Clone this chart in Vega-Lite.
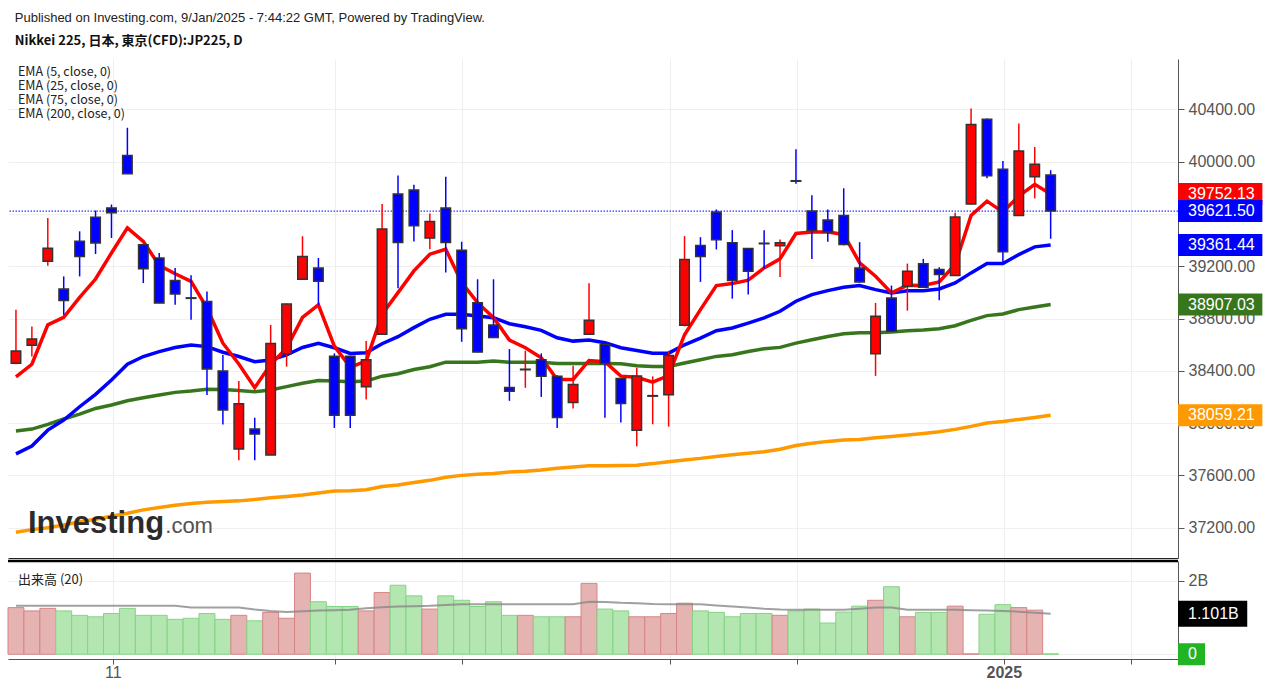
{
  "$schema": "https://vega.github.io/schema/vega-lite/v6.json",
  "background": "white",
  "padding": {"left": 6, "top": 12, "right": 0, "bottom": 0},
  "title": {
    "text": "Published on Investing.com, 9/Jan/2025 - 7:44:22 GMT, Powered by TradingView.",
    "subtitle": "Nikkei 225, 日本, 東京(CFD):JP225, D",
    "anchor": "start", "frame": "bounds", "dx": 8,
    "font": "Liberation Sans", "fontSize": 13, "fontWeight": "normal", "color": "#222",
    "subtitleFont": "Noto Sans CJK JP", "subtitleFontSize": 13, "subtitleFontWeight": "bold", "subtitleColor": "#111",
    "subtitlePadding": 10, "offset": 11
  },
  "datasets": {
    "bars": [
      {"bar":1,"open":38457,"high":38866,"low":38450,"close":38552,"ema5":38353,"ema25":37765,"ema75":37939,"ema200":37165,"volume":1.27,"volma":1.32},
      {"bar":2,"open":38595,"high":38739,"low":38509,"close":38644,"ema5":38450,"ema25":37824,"ema75":37954,"ema200":37185,"volume":1.18,"volma":1.32},
      {"bar":3,"open":39237,"high":39569,"low":39204,"close":39337,"ema5":38751,"ema25":37946,"ema75":37990,"ema200":37200,"volume":1.25,"volma":1.32},
      {"bar":4,"open":39025,"high":39122,"low":38828,"close":38938,"ema5":38808,"ema25":38023,"ema75":38031,"ema200":37220,"volume":1.18,"volma":1.32},
      {"bar":5,"open":39390,"high":39467,"low":39122,"close":39275,"ema5":38961,"ema25":38125,"ema75":38069,"ema200":37245,"volume":1.06,"volma":1.32},
      {"bar":6,"open":39574,"high":39626,"low":39293,"close":39378,"ema5":39102,"ema25":38220,"ema75":38112,"ema200":37265,"volume":1.02,"volma":1.32},
      {"bar":7,"open":39646,"high":39672,"low":39416,"close":39608,"ema5":39301,"ema25":38330,"ema75":38138,"ema200":37288,"volume":1.11,"volma":1.32},
      {"bar":8,"open":40047,"high":40259,"low":39907,"close":39907,"ema5":39493,"ema25":38450,"ema75":38171,"ema200":37310,"volume":1.25,"volma":1.32},
      {"bar":9,"open":39365,"high":39370,"low":39071,"close":39181,"ema5":39390,"ema25":38509,"ema75":38194,"ema200":37336,"volume":1.06,"volma":1.32},
      {"bar":10,"open":39263,"high":39301,"low":38918,"close":38918,"ema5":39206,"ema25":38547,"ema75":38215,"ema200":37355,"volume":1.06,"volma":1.32},
      {"bar":11,"open":39091,"high":39186,"low":38905,"close":38987,"ema5":39142,"ema25":38578,"ema75":38235,"ema200":37372,"volume":0.95,"volma":1.32},
      {"bar":12,"open":38958,"high":39130,"low":38790,"close":38954,"ema5":39084,"ema25":38598,"ema75":38245,"ema200":37385,"volume":0.98,"volma":1.27},
      {"bar":13,"open":38930,"high":39007,"low":38215,"close":38414,"ema5":38879,"ema25":38585,"ema75":38258,"ema200":37395,"volume":1.11,"volma":1.27},
      {"bar":14,"open":38399,"high":38521,"low":37990,"close":38100,"ema5":38611,"ema25":38542,"ema75":38256,"ema200":37400,"volume":0.95,"volma":1.27},
      {"bar":15,"open":37801,"high":38322,"low":37716,"close":38148,"ema5":38452,"ema25":38509,"ema75":38250,"ema200":37405,"volume":1.06,"volma":1.27},
      {"bar":16,"open":37954,"high":38041,"low":37716,"close":37916,"ema5":38271,"ema25":38470,"ema75":38240,"ema200":37415,"volume":0.91,"volma":1.22},
      {"bar":17,"open":37755,"high":38751,"low":37755,"close":38608,"ema5":38450,"ema25":38483,"ema75":38253,"ema200":37428,"volume":1.14,"volma":1.18},
      {"bar":18,"open":38530,"high":38915,"low":38432,"close":38910,"ema5":38573,"ema25":38521,"ema75":38279,"ema200":37439,"volume":0.98,"volma":1.15},
      {"bar":19,"open":39100,"high":39429,"low":39100,"close":39275,"ema5":38808,"ema25":38578,"ema75":38304,"ema200":37450,"volume":2.21,"volma":1.17},
      {"bar":20,"open":39186,"high":39263,"low":38905,"close":39084,"ema5":38905,"ema25":38611,"ema75":38325,"ema200":37465,"volume":1.43,"volma":1.19},
      {"bar":21,"open":38512,"high":38533,"low":37963,"close":38060,"ema5":38589,"ema25":38576,"ema75":38321,"ema200":37480,"volume":1.30,"volma":1.20},
      {"bar":22,"open":38512,"high":38515,"low":37963,"close":38060,"ema5":38428,"ema25":38533,"ema75":38316,"ema200":37483,"volume":1.30,"volma":1.21},
      {"bar":23,"open":38277,"high":38627,"low":38180,"close":38484,"ema5":38474,"ema25":38538,"ema75":38321,"ema200":37490,"volume":1.18,"volma":1.25},
      {"bar":24,"open":38679,"high":39675,"low":38679,"close":39484,"ema5":38832,"ema25":38607,"ema75":38359,"ema200":37515,"volume":1.68,"volma":1.28},
      {"bar":25,"open":39752,"high":39893,"low":39031,"close":39381,"ema5":38998,"ema25":38661,"ema75":38377,"ema200":37527,"volume":1.88,"volma":1.30},
      {"bar":26,"open":39783,"high":39824,"low":39389,"close":39509,"ema5":39164,"ema25":38730,"ema75":38410,"ema200":37545,"volume":1.59,"volma":1.31},
      {"bar":27,"open":39415,"high":39604,"low":39330,"close":39542,"ema5":39292,"ema25":38794,"ema75":38431,"ema200":37562,"volume":1.23,"volma":1.32},
      {"bar":28,"open":39645,"high":39885,"low":39151,"close":39381,"ema5":39330,"ema25":38832,"ema75":38466,"ema200":37585,"volume":1.59,"volma":1.34},
      {"bar":29,"open":39323,"high":39387,"low":38622,"close":38722,"ema5":39075,"ema25":38832,"ema75":38466,"ema200":37600,"volume":1.47,"volma":1.36},
      {"bar":30,"open":38921,"high":39100,"low":38540,"close":38543,"ema5":38921,"ema25":38819,"ema75":38466,"ema200":37608,"volume":1.30,"volma":1.36},
      {"bar":31,"open":38750,"high":39100,"low":38650,"close":38655,"ema5":38806,"ema25":38806,"ema75":38474,"ema200":37615,"volume":1.43,"volma":1.36},
      {"bar":32,"open":38272,"high":38566,"low":38170,"close":38244,"ema5":38635,"ema25":38760,"ema75":38466,"ema200":37625,"volume":1.06,"volma":1.36},
      {"bar":33,"open":38408,"high":38553,"low":38270,"close":38412,"ema5":38576,"ema25":38737,"ema75":38466,"ema200":37632,"volume":1.06,"volma":1.36},
      {"bar":34,"open":38484,"high":38533,"low":38200,"close":38359,"ema5":38500,"ema25":38709,"ema75":38466,"ema200":37642,"volume":1.02,"volma":1.36},
      {"bar":35,"open":38359,"high":38365,"low":37963,"close":38042,"ema5":38334,"ema25":38653,"ema75":38456,"ema200":37655,"volume":1.02,"volma":1.36},
      {"bar":36,"open":38157,"high":38438,"low":38111,"close":38295,"ema5":38334,"ema25":38627,"ema75":38456,"ema200":37665,"volume":1.02,"volma":1.36},
      {"bar":37,"open":38679,"high":39070,"low":38675,"close":38786,"ema5":38479,"ema25":38635,"ema75":38456,"ema200":37673,"volume":1.93,"volma":1.43},
      {"bar":38,"open":38602,"high":38610,"low":38040,"close":38456,"ema5":38469,"ema25":38615,"ema75":38456,"ema200":37674,"volume":1.23,"volma":1.42},
      {"bar":39,"open":38341,"high":38345,"low":38004,"close":38149,"ema5":38359,"ema25":38576,"ema75":38454,"ema200":37676,"volume":1.18,"volma":1.40},
      {"bar":40,"open":37945,"high":38423,"low":37822,"close":38360,"ema5":38350,"ema25":38555,"ema75":38438,"ema200":37678,"volume":1.02,"volma":1.39},
      {"bar":41,"open":38206,"high":38357,"low":37991,"close":38210,"ema5":38313,"ema25":38535,"ema75":38433,"ema200":37690,"volume":1.02,"volma":1.37},
      {"bar":42,"open":38216,"high":38553,"low":37973,"close":38517,"ema5":38364,"ema25":38535,"ema75":38433,"ema200":37705,"volume":1.11,"volma":1.36},
      {"bar":43,"open":38748,"high":39430,"low":38740,"close":39251,"ema5":38676,"ema25":38599,"ema75":38459,"ema200":37718,"volume":1.39,"volma":1.36},
      {"bar":44,"open":39358,"high":39422,"low":39080,"close":39274,"ema5":38868,"ema25":38650,"ema75":38484,"ema200":37730,"volume":1.18,"volma":1.36},
      {"bar":45,"open":39614,"high":39634,"low":39328,"close":39402,"ema5":39052,"ema25":38707,"ema75":38510,"ema200":37745,"volume":1.14,"volma":1.33},
      {"bar":46,"open":39379,"high":39476,"low":38952,"close":39090,"ema5":39067,"ema25":38727,"ema75":38523,"ema200":37757,"volume":1.02,"volma":1.30},
      {"bar":47,"open":39335,"high":39340,"low":38983,"close":39162,"ema5":39093,"ema25":38765,"ema75":38548,"ema200":37770,"volume":1.11,"volma":1.27},
      {"bar":48,"open":39376,"high":39476,"low":39182,"close":39372,"ema5":39187,"ema25":38804,"ema75":38569,"ema200":37781,"volume":1.11,"volma":1.24},
      {"bar":49,"open":39356,"high":39404,"low":39118,"close":39379,"ema5":39256,"ema25":38855,"ema75":38579,"ema200":37800,"volume":1.06,"volma":1.22},
      {"bar":50,"open":39854,"high":40095,"low":39831,"close":39850,"ema5":39450,"ema25":38932,"ema75":38612,"ema200":37828,"volume":1.18,"volma":1.21},
      {"bar":51,"open":39622,"high":39742,"low":39256,"close":39473,"ema5":39461,"ema25":38983,"ema75":38638,"ema200":37845,"volume":1.23,"volma":1.21},
      {"bar":52,"open":39553,"high":39634,"low":39387,"close":39461,"ema5":39461,"ema25":39013,"ema75":38663,"ema200":37860,"volume":0.85,"volma":1.21},
      {"bar":53,"open":39588,"high":39796,"low":39360,"close":39366,"ema5":39443,"ema25":39039,"ema75":38684,"ema200":37870,"volume":1.15,"volma":1.21},
      {"bar":54,"open":39187,"high":39384,"low":39075,"close":39080,"ema5":39226,"ema25":39052,"ema75":38691,"ema200":37875,"volume":1.31,"volma":1.24},
      {"bar":55,"open":38530,"high":38919,"low":38361,"close":38817,"ema5":39123,"ema25":39021,"ema75":38691,"ema200":37888,"volume":1.47,"volma":1.27},
      {"bar":56,"open":38957,"high":39052,"low":38700,"close":38702,"ema5":38996,"ema25":38996,"ema75":38696,"ema200":37898,"volume":1.84,"volma":1.27},
      {"bar":57,"open":39047,"high":39220,"low":38860,"close":39162,"ema5":39054,"ema25":39013,"ema75":38707,"ema200":37908,"volume":1.02,"volma":1.21},
      {"bar":58,"open":39218,"high":39256,"low":39035,"close":39039,"ema5":39052,"ema25":39013,"ema75":38712,"ema200":37920,"volume":1.14,"volma":1.21},
      {"bar":59,"open":39174,"high":39192,"low":38939,"close":39136,"ema5":39080,"ema25":39026,"ema75":38722,"ema200":37933,"volume":1.14,"volma":1.21},
      {"bar":60,"open":39128,"high":39609,"low":39125,"close":39576,"ema5":39213,"ema25":39072,"ema75":38745,"ema200":37952,"volume":1.31,"volma":1.21},
      {"bar":61,"open":39676,"high":40407,"low":39670,"close":40284,"ema5":39588,"ema25":39149,"ema75":38786,"ema200":37975,"volume":0.01,"volma":1.20},
      {"bar":62,"open":40324,"high":40330,"low":39873,"close":39892,"ema5":39698,"ema25":39220,"ema75":38822,"ema200":38000,"volume":1.09,"volma":1.19},
      {"bar":63,"open":39941,"high":40005,"low":39233,"close":39310,"ema5":39614,"ema25":39220,"ema75":38834,"ema200":38012,"volume":1.35,"volma":1.18},
      {"bar":64,"open":39588,"high":40292,"low":39585,"close":40082,"ema5":39737,"ema25":39289,"ema75":38868,"ema200":38028,"volume":1.27,"volma":1.16},
      {"bar":65,"open":39885,"high":40112,"low":39719,"close":39980,"ema5":39826,"ema25":39348,"ema75":38888,"ema200":38043,"volume":1.20,"volma":1.13},
      {"bar":66,"open":39898,"high":39934,"low":39410,"close":39621.5,"ema5":39752.13,"ema25":39361.44,"ema75":38907.03,"ema200":38059.21,"volume":0.01,"volma":1.10}
    ],
    "tags": [
      {"label":"39752.13","price":39752.13,"series":"EMA5"},
      {"label":"39621.50","price":39621.5,"series":"Close"},
      {"label":"39361.44","price":39361.44,"series":"EMA25"},
      {"label":"38907.03","price":38907.03,"series":"EMA75"},
      {"label":"38059.21","price":38059.21,"series":"EMA200"}
    ]
  },
  "spacing": 1,
  "vconcat": [
    {
      "width": 1170,
      "height": 499,
      "data": {"name": "bars"},
      "layer": [
        {
          "mark": {"type": "line", "color": "#ff9900", "strokeWidth": 3.5},
          "encoding": {
            "x": {"field": "bar", "type": "quantitative", "scale": {"domain": [0.5, 74], "nice": false, "zero": false, "padding": 0},
              "axis": {"orient": "bottom", "values": [7.09, 21.04, 29, 42.08, 50.06, 63.06, 71.04], "labels": false, "ticks": false, "grid": true, "gridColor": "#eeeeee", "domainColor": "#222", "domainWidth": 1, "title": null}},
            "y": {"field": "ema200", "type": "quantitative", "scale": {"domain": [36968, 40785], "nice": false, "zero": false},
              "axis": {"orient": "right", "values": [37200, 37600, 38000, 38400, 38800, 39200, 39600, 40000, 40400], "format": ".2f", "title": null, "labelFont": "Liberation Sans", "labelFontSize": 16, "labelColor": "#555", "tickColor": "#555", "tickSize": 6, "domainColor": "#555", "labelPadding": 4, "grid": true, "gridColor": "#f0f0f0", "labelOverlap": false}}
          }
        },
        {
          "mark": {"type": "line", "color": "#38761d", "strokeWidth": 3.5},
          "encoding": {
            "x": {"field": "bar", "type": "quantitative", "title": null},
            "y": {"field": "ema75", "type": "quantitative", "title": null}
          }
        },
        {
          "mark": {"type": "line", "color": "#0000ff", "strokeWidth": 3.5},
          "encoding": {
            "x": {"field": "bar", "type": "quantitative", "title": null},
            "y": {"field": "ema25", "type": "quantitative", "title": null}
          }
        },
        {
          "mark": {"type": "line", "color": "#ff0000", "strokeWidth": 3.5},
          "encoding": {
            "x": {"field": "bar", "type": "quantitative", "title": null},
            "y": {"field": "ema5", "type": "quantitative", "title": null}
          }
        },
        {
          "data": {"name": "tags"},
          "transform": [{"filter": "datum.series === 'Close'"}],
          "mark": {"type": "rule", "color": "#0000ff", "strokeDash": [1.5, 1.5], "strokeWidth": 1},
          "encoding": {
            "y": {"field": "price", "type": "quantitative", "title": null}
          }
        },
        {
          "mark": {"type": "rule", "strokeWidth": 1.5},
          "encoding": {
            "x": {"field": "bar", "type": "quantitative", "title": null},
            "y": {"field": "low", "type": "quantitative", "title": null},
            "y2": {"field": "high"},
            "color": {"condition": {"test": "datum.close > datum.open", "value": "#ff0000"}, "value": "#0000ff"}
          }
        },
        {
          "mark": {"type": "bar", "width": 9.5, "stroke": "#333", "strokeWidth": 1.5},
          "encoding": {
            "x": {"field": "bar", "type": "quantitative", "title": null},
            "y": {"field": "open", "type": "quantitative", "title": null},
            "y2": {"field": "close"},
            "fill": {"condition": {"test": "datum.close > datum.open", "value": "#ff0000"}, "value": "#0000ff"}
          }
        },
        {
          "data": {"values": [{"a": 1}]},
          "mark": {"type": "text", "text": "Investing", "font": "Liberation Sans", "fontSize": 31, "fontWeight": "bold", "align": "left", "baseline": "alphabetic", "color": "#1a1a1a", "opacity": 0.92},
          "encoding": {
            "x": {"datum": 1.756, "type": "quantitative", "title": null},
            "y": {"datum": 37160, "type": "quantitative", "title": null}
          }
        },
        {
          "data": {"values": [{"a": 1}]},
          "mark": {"type": "text", "text": ".com", "font": "Liberation Sans", "fontSize": 22, "align": "left", "baseline": "alphabetic", "color": "#444", "opacity": 0.92},
          "encoding": {
            "x": {"datum": 10.38, "type": "quantitative", "title": null},
            "y": {"datum": 37160, "type": "quantitative", "title": null}
          }
        },
        {
          "data": {"values": [{"a": 1}]},
          "mark": {"type": "text", "text": ["EMA (5, close, 0)", "EMA (25, close, 0)", "EMA (75, close, 0)", "EMA (200, close, 0)"], "font": "Noto Sans CJK JP", "fontSize": 12.5, "lineHeight": 14, "align": "left", "baseline": "top", "color": "#222"},
          "encoding": {
            "x": {"datum": 1.128, "type": "quantitative", "title": null},
            "y": {"datum": 40731, "type": "quantitative", "title": null}
          }
        },
        {
          "data": {"name": "tags"},
          "mark": {"type": "rect", "height": 22},
          "encoding": {
            "x": {"datum": 74, "type": "quantitative", "title": null},
            "x2": {"datum": 79.3},
            "y": {"field": "price", "type": "quantitative", "title": null},
            "fill": {"field": "series", "type": "nominal", "legend": null, "scale": {"domain": ["EMA5", "Close", "EMA25", "EMA75", "EMA200"], "range": ["#ff0000", "#0000ff", "#0000ff", "#38761d", "#ff9900"]}}
          }
        },
        {
          "data": {"name": "tags"},
          "mark": {"type": "text", "font": "Liberation Sans", "fontSize": 16, "align": "left", "baseline": "middle", "color": "white"},
          "encoding": {
            "x": {"datum": 74.63, "type": "quantitative", "title": null},
            "y": {"field": "price", "type": "quantitative", "title": null},
            "text": {"field": "label"}
          }
        }
      ]
    },
    {
      "width": 1170,
      "height": 98,
      "data": {"name": "bars"},
      "layer": [
        {
          "mark": {"type": "bar", "width": 15.9, "strokeWidth": 1},
          "encoding": {
            "x": {"field": "bar", "type": "quantitative", "scale": {"domain": [0.5, 74], "nice": false, "zero": false, "padding": 0},
              "axis": {"orient": "bottom", "values": [7.09, 21.04, 29, 42.08, 50.06, 63.06, 71.04], "labelExpr": "datum.value < 10 ? '11' : (datum.value > 62 && datum.value < 64 ? '2025' : '')", "labelFont": "Liberation Sans", "labelFontSize": 16, "labelColor": "#555", "labelFontWeight": {"condition": {"test": "datum.value > 62 && datum.value < 64", "value": "bold"}, "value": "normal"}, "labelPadding": 0, "tickSize": 5, "tickColor": "#555", "domainColor": "#555", "grid": true, "gridColor": "#eeeeee", "title": null}},
            "y": {"field": "volume", "type": "quantitative", "scale": {"domain": [-0.13, 2.54], "nice": false, "zero": false},
              "axis": {"orient": "right", "values": [0, 2], "labelExpr": "datum.value == 2 ? '2B' : '0'", "title": null, "labelFont": "Liberation Sans", "labelFontSize": 16, "labelColor": "#555", "tickColor": "#555", "tickSize": 6, "domainColor": "#555", "labelPadding": 4, "grid": true, "gridColor": "#f0f0f0"}},
            "fill": {"condition": {"test": "datum.close > datum.open", "value": "#e6b3b3"}, "value": "#b3e6b0"},
            "stroke": {"condition": {"test": "datum.close > datum.open", "value": "#d68585"}, "value": "#85d485"}
          }
        },
        {
          "mark": {"type": "line", "color": "#888", "strokeWidth": 2, "opacity": 0.8},
          "encoding": {
            "x": {"field": "bar", "type": "quantitative", "title": null},
            "y": {"field": "volma", "type": "quantitative", "title": null}
          }
        },
        {
          "data": {"values": [{"a": 1}]},
          "mark": {"type": "rule", "color": "#000", "strokeWidth": 2.5},
          "encoding": {
            "y": {"datum": 2.54, "type": "quantitative", "title": null}
          }
        },
        {
          "data": {"values": [{"a": 1}]},
          "mark": {"type": "text", "text": "出来高 (20)", "font": "Noto Sans CJK JP", "fontSize": 13, "align": "left", "baseline": "middle", "color": "#222"},
          "encoding": {
            "x": {"datum": 1.128, "type": "quantitative", "title": null},
            "y": {"datum": 2.035, "type": "quantitative", "title": null}
          }
        },
        {
          "data": {"values": [{"a": 1}]},
          "mark": {"type": "rect", "height": 26, "color": "#000"},
          "encoding": {
            "x": {"datum": 74, "type": "quantitative", "title": null},
            "x2": {"datum": 78.35},
            "y": {"datum": 1.101, "type": "quantitative", "title": null}
          }
        },
        {
          "data": {"values": [{"a": 1}]},
          "mark": {"type": "text", "text": "1.101B", "font": "Liberation Sans", "fontSize": 16, "align": "left", "baseline": "middle", "color": "white"},
          "encoding": {
            "x": {"datum": 74.63, "type": "quantitative", "title": null},
            "y": {"datum": 1.101, "type": "quantitative", "title": null}
          }
        },
        {
          "data": {"values": [{"a": 1}]},
          "mark": {"type": "rect", "height": 22, "color": "#22b422"},
          "encoding": {
            "x": {"datum": 74, "type": "quantitative", "title": null},
            "x2": {"datum": 75.7},
            "y": {"datum": 0, "type": "quantitative", "title": null}
          }
        },
        {
          "data": {"values": [{"a": 1}]},
          "mark": {"type": "text", "text": "0", "font": "Liberation Sans", "fontSize": 16, "align": "left", "baseline": "middle", "color": "white"},
          "encoding": {
            "x": {"datum": 74.63, "type": "quantitative", "title": null},
            "y": {"datum": 0, "type": "quantitative", "title": null}
          }
        }
      ]
    }
  ],
  "config": {
    "view": {"stroke": null},
    "axis": {"domainWidth": 1}
  }
}
